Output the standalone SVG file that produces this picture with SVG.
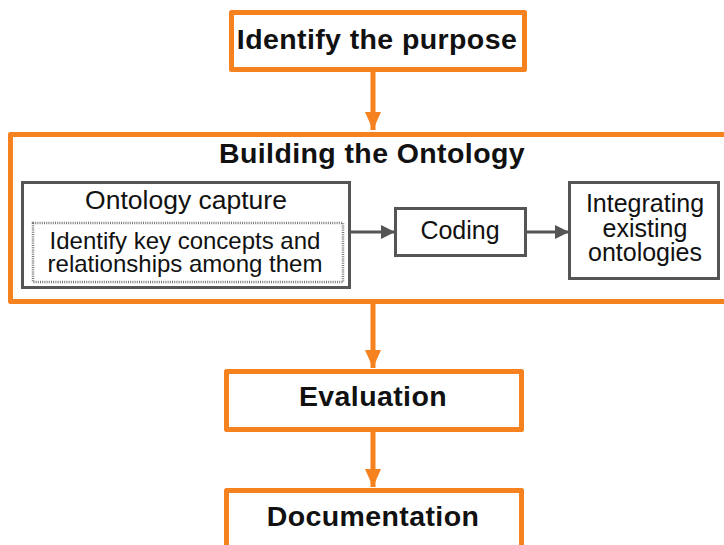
<svg xmlns="http://www.w3.org/2000/svg" width="724" height="545" viewBox="0 0 724 545">
  <defs>
    <style>
      .stage { fill: #ffffff; stroke: #f5821f; stroke-width: 5; stroke-linejoin: round; }
      .step { fill: #ffffff; stroke: #555555; stroke-width: 3; }
      .detail { fill: none; stroke: #777777; stroke-width: 2.5; stroke-dasharray: 1 1.2; }
      .bold { font-family: "Liberation Sans", Arial, sans-serif; font-weight: bold; font-size: 28.5px; fill: #111111; text-anchor: middle; letter-spacing: 0.4px; }
      .reg { font-family: "Liberation Sans", Arial, sans-serif; font-size: 25px; fill: #111111; text-anchor: middle; }
      .small { font-family: "Liberation Sans", Arial, sans-serif; font-size: 24px; fill: #111111; text-anchor: middle; }
      .flow { stroke: #f5821f; stroke-width: 5; fill: none; }
      .inner { stroke: #555555; stroke-width: 3; fill: none; }
    </style>
    <marker id="orangeHead" markerUnits="userSpaceOnUse" markerWidth="20" markerHeight="16" refX="18" refY="8" orient="auto">
      <path d="M0,0 L18,8 L0,16 Z" fill="#f5821f"/>
    </marker>
    <marker id="grayHead" markerUnits="userSpaceOnUse" markerWidth="16" markerHeight="14" refX="14" refY="7" orient="auto">
      <path d="M0,0 L14,7 L0,14 Z" fill="#555555"/>
    </marker>
  </defs>

  <!-- main stages -->
  <g id="purpose">
    <rect class="stage" x="231.5" y="12.5" width="293" height="57"/>
    <text class="bold" x="377" y="49">Identify the purpose</text>
  </g>

  <g id="building">
    <rect class="stage" x="10.5" y="134.5" width="720" height="167"/>
    <text class="bold" x="372" y="163">Building the Ontology</text>
  </g>

  <g id="capture">
    <rect class="step" x="22.5" y="182.5" width="327" height="105"/>
    <text class="reg" x="186" y="209" style="font-size:26.5px">Ontology capture</text>
    <rect class="detail" x="33" y="223" width="310" height="59"/>
    <text class="small" x="185" y="249">Identify key concepts and</text>
    <text class="small" x="185" y="272">relationships among them</text>
  </g>

  <g id="coding">
    <rect class="step" x="395.5" y="208.5" width="130" height="47"/>
    <text class="reg" x="460" y="239">Coding</text>
  </g>

  <g id="integrating">
    <rect class="step" x="569.5" y="182.5" width="149" height="96"/>
    <text class="reg" x="645" y="212">Integrating</text>
    <text class="reg" x="645" y="237">existing</text>
    <text class="reg" x="645" y="261">ontologies</text>
  </g>

  <g id="evaluation">
    <rect class="stage" x="226.5" y="371.5" width="295" height="58"/>
    <text class="bold" x="373" y="406">Evaluation</text>
  </g>

  <g id="documentation">
    <rect class="stage" x="226.5" y="490.5" width="295" height="70"/>
    <text class="bold" x="373" y="526">Documentation</text>
  </g>

  <!-- connectors -->
  <g id="connectors">
    <line class="flow" x1="373" y1="70" x2="373" y2="130" marker-end="url(#orangeHead)"/>
    <line class="flow" x1="373" y1="302" x2="373" y2="368" marker-end="url(#orangeHead)"/>
    <line class="flow" x1="373" y1="430" x2="373" y2="487" marker-end="url(#orangeHead)"/>
    <line class="inner" x1="350" y1="232" x2="395" y2="232" marker-end="url(#grayHead)"/>
    <line class="inner" x1="526" y1="232" x2="569" y2="232" marker-end="url(#grayHead)"/>
  </g>
</svg>
